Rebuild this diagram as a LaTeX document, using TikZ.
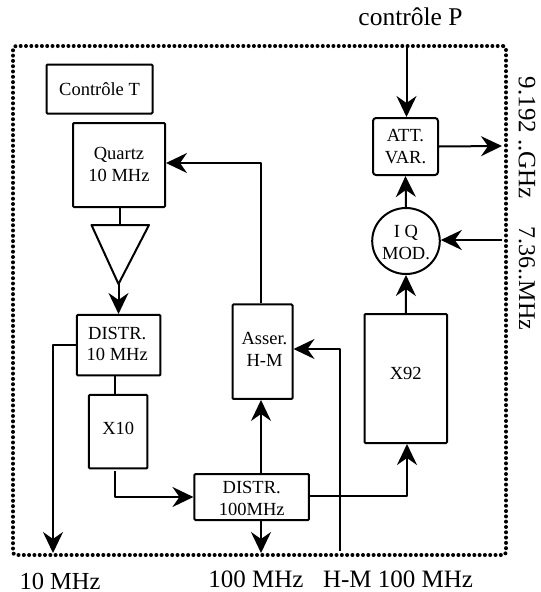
\documentclass[tikz,border=0pt]{standalone}
\usepackage{fontspec}
\setmainfont{Liberation Serif}
\usetikzlibrary{arrows.meta,shapes.geometric}
\newcommand{\boxfont}{\fontsize{18.5}{21.5}\selectfont}
\newcommand{\outfont}{\fontsize{25}{28}\selectfont}
% lower the text of a block by #1 pt without changing the block's size
\newcommand{\shifted}[2]{\raisebox{\dimexpr-#1pt-0.25em\relax}[0pt][0pt]{\begin{tabular}{@{}c@{}}#2\end{tabular}}}
\tikzset{
  blockbox/.style={draw,line width=2pt,rounded corners=1pt,inner sep=0pt,align=center,font=\boxfont},
  framebox/.style={draw,line width=4pt,line cap=round,dash pattern=on 0pt off 5.3pt,inner sep=0pt,rounded corners=3pt},
  wire/.style={line width=2pt,line join=round},
  arrowwire/.style={wire,-{Stealth[length=21pt,width=20pt,inset=7pt]}},
  outlabel/.style={font=\outfont,inner sep=0pt}
}
\begin{document}
\begin{tikzpicture}[x=1pt,y=-1pt]
\useasboundingbox (0,0) rectangle (541,592);
\node[framebox,minimum width=493pt,minimum height=509pt] (frame) at (259.5,300.5) {};
\node[blockbox,minimum width=106pt,minimum height=49pt] (ctrl) at (99.5,89) {\shifted{2}{Contrôle T}};
\node[blockbox,minimum width=92pt,minimum height=84pt] (quartz) at (119,165) {\shifted{1}{Quartz\\10 MHz}};
\node[blockbox,minimum width=83.5pt,minimum height=60.5pt] (dist10) at (118.7,345.2) {\hspace{-3pt}\shifted{0}{DISTR.\\10 MHz}};
\node[blockbox,minimum width=58.5pt,minimum height=73.5pt] (x10) at (118.2,431.7) {\shifted{-2}{X10}};
\node[blockbox,minimum width=114.5pt,minimum height=46pt] (dist100) at (251.7,497) {\shifted{3}{DISTR.\\100MHz}};
\node[blockbox,minimum width=60pt,minimum height=94.5pt] (asser) at (262.5,351.7) {\hspace{4pt}\shifted{-1}{Asser.\\H-M}};
\node[blockbox,minimum width=82.5pt,minimum height=129pt] (x92) at (405.8,378.5) {\shifted{-4}{X92}};
\node[blockbox,rounded corners=3pt,minimum width=65pt,minimum height=57pt] (att) at (405.5,146.5) {ATT.\\VAR.};
\node[draw,ellipse,line width=2pt,inner sep=0pt,minimum width=60pt,minimum height=66pt,align=center,font=\boxfont] (iq) at (406,241) {\shifted{3}{I Q\\MOD.}};
\coordinate (tl) at (91.5,225);
\coordinate (tr) at (149,225);
\coordinate (tip) at (118.5,284);
\draw[wire] (tl) -- (tr) -- (tip) -- cycle;
\coordinate (ptop) at (406.5,46);
\coordinate (outrf) at (502,146);
\coordinate (inmod) at (502,240);
\coordinate (x10tail) at (115,471);
\coordinate (hm) at (340,551);
\coordinate (out10) at (53,553);
\coordinate (out100) at (261,553);
% connectors
\draw[wire] (quartz.south -| 119.5,0) -- (119.5,225);
\draw[arrowwire] (tip) -- (tip |- dist10.north);
\draw[wire] (dist10.south -| 115,0) -- (x10.north -| 115,0);
\draw[arrowwire] (dist10.west |- 0,345) -| (out10);
\draw[arrowwire] (x10tail) |- (dist100.west);
\draw[arrowwire] (dist100.north -| out100) -- (asser.south -| out100);
\draw[arrowwire] (out100 |- dist100.south) -- (out100);
\draw[arrowwire] (asser.north -| out100) |- (quartz.east |- 0,163);
\draw[arrowwire] (hm) |- (asser.east |- 0,349);
\draw[arrowwire] (dist100.east |- 0,496) -| (x92.south -| 407,0);
\draw[arrowwire] (iq.north) -- (att.south);
\draw[arrowwire] (ptop) -- (att.north -| ptop);
\draw[arrowwire] (att.east) -- (outrf);
\draw[arrowwire] (inmod) -- (iq.east |- inmod);
\draw[arrowwire] (x92.north) -- (iq.south);
% labels
\node[outlabel] (lp) at (410.5,17) {\fontsize{25.5}{28}\selectfont contrôle P};
\node[outlabel,rotate=-90] (lrf) at (527,138) {9.192 ..GHz};
\node[outlabel,rotate=-90] (lmod) at (527,278.5) {\fontsize{24}{28}\selectfont 7.36..MHz};
\node[outlabel] (l10) at (60,581) {\fontsize{24.5}{28}\selectfont 10 MHz};
\node[outlabel] (l100) at (256,579) {100 MHz};
\node[outlabel] (lhm) at (398,579) {H-M 100 MHz};
\end{tikzpicture}
\end{document}
